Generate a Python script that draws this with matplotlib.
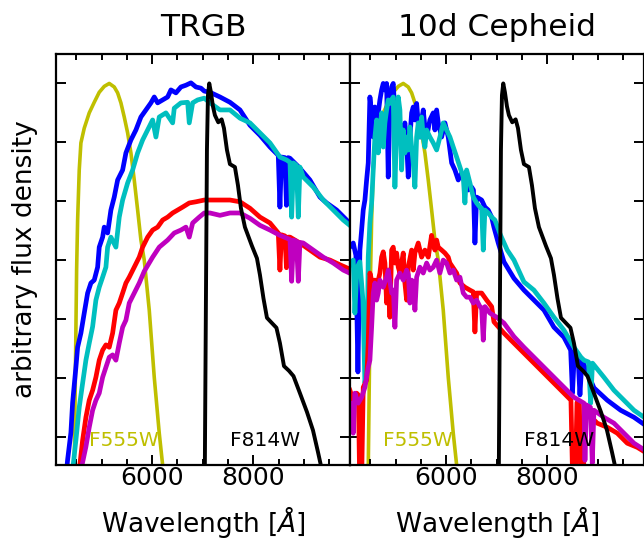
"""
TRGB vs 10d Cepheid spectra with the HST F555W / F814W throughputs drawn on top.

Two panels share the flux axis (no tick labels, arbitrary units, peak = 1).
Writes out.png in the working folder.
"""
import matplotlib
matplotlib.use('Agg')
import matplotlib.pyplot as plt
from matplotlib.ticker import MultipleLocator

# --- filter throughputs, normalised to peak; same curves in both panels ---
f555w_wave = [4450, 4503, 4523, 4555, 4588, 4654, 4753, 4852, 4951, 5050,
              5149, 5248, 5315, 5380, 5446, 5513, 5578, 5644, 5711, 5776,
              5842, 5941, 6040, 6139, 6206, 6232]
f555w_thru = [0.300, 0.683, 0.768, 0.853, 0.899, 0.924, 0.950, 0.968, 0.985, 0.995,
              1.000, 0.994, 0.984, 0.967, 0.943, 0.916, 0.882, 0.836, 0.785, 0.734,
              0.700, 0.615, 0.501, 0.406, 0.352, 0.330]

f814w_wave = [7040, 7063, 7083, 7103, 7129, 7162, 7202, 7241, 7307, 7374,
              7420, 7479, 7538, 7637, 7697, 7756, 7835, 7974, 8073, 8132,
              8202, 8271, 8370, 8459, 8528, 8608, 8707, 8796, 8924, 9063,
              9182, 9281, 9360]
f814w_thru = [0.330, 0.632, 0.887, 0.980, 1.000, 0.985, 0.961, 0.946, 0.934, 0.939,
              0.924, 0.887, 0.863, 0.858, 0.827, 0.788, 0.756, 0.724, 0.703, 0.675,
              0.635, 0.602, 0.593, 0.585, 0.559, 0.520, 0.512, 0.503, 0.474, 0.442,
              0.411, 0.374, 0.343]

# --- TRGB panel spectra ---
trgb_blue_wave = [4305, 4325, 4390, 4424, 4489, 4523, 4588, 4654, 4721, 4786,
                  4852, 4919, 4951, 5018, 5050, 5117, 5182, 5248, 5315, 5414,
                  5479, 5578, 5677, 5776, 5875, 5974, 6040, 6107, 6206, 6305,
                  6370, 6469, 6568, 6667, 6766, 6865, 6964, 7030, 7143, 7341,
                  7539, 7737, 7935, 8133, 8331, 8495, 8528, 8558, 8627, 8657,
                  8690, 8726, 8924, 9122, 9320, 9453, 9651, 9849, 9954]
trgb_blue_flux = [0.343, 0.361, 0.407, 0.458, 0.518, 0.552, 0.576, 0.610, 0.644, 0.661,
                  0.666, 0.688, 0.722, 0.739, 0.756, 0.746, 0.785, 0.807, 0.836, 0.853,
                  0.882, 0.904, 0.921, 0.943, 0.955, 0.967, 0.977, 0.967, 0.972, 0.977,
                  0.989, 0.984, 0.994, 0.997, 1.001, 0.994, 0.992, 0.987, 0.985, 0.977,
                  0.968, 0.955, 0.929, 0.912, 0.892, 0.878, 0.790, 0.875, 0.874, 0.793,
                  0.874, 0.873, 0.856, 0.836, 0.807, 0.797, 0.785, 0.768, 0.758]

trgb_cyan_wave = [4424, 4489, 4555, 4622, 4687, 4753, 4820, 4885, 4951, 5018,
                  5083, 5117, 5182, 5281, 5347, 5414, 5513, 5612, 5711, 5810,
                  5909, 6008, 6073, 6139, 6271, 6404, 6436, 6568, 6701, 6733,
                  6800, 6899, 7030, 7143, 7341, 7539, 7737, 7935, 8133, 8331,
                  8528, 8661, 8727, 8760, 8796, 8855, 8891, 8924, 8990, 9188,
                  9386, 9584, 9782, 9954]
trgb_cyan_flux = [0.343, 0.394, 0.450, 0.491, 0.530, 0.559, 0.587, 0.632, 0.654, 0.671,
                  0.688, 0.722, 0.739, 0.722, 0.773, 0.802, 0.831, 0.853, 0.882, 0.904,
                  0.921, 0.938, 0.909, 0.943, 0.950, 0.933, 0.958, 0.967, 0.968, 0.933,
                  0.967, 0.972, 0.975, 0.967, 0.955, 0.955, 0.941, 0.933, 0.916, 0.899,
                  0.875, 0.870, 0.866, 0.773, 0.865, 0.861, 0.773, 0.858, 0.841, 0.824,
                  0.802, 0.785, 0.768, 0.756]

trgb_red_wave = [4555, 4622, 4687, 4753, 4820, 4885, 4951, 5018, 5083, 5149,
                 5216, 5281, 5347, 5414, 5479, 5545, 5644, 5743, 5810, 5909,
                 6008, 6107, 6206, 6305, 6404, 6503, 6602, 6733, 6865, 7030,
                 7143, 7341, 7539, 7737, 7935, 8133, 8331, 8495, 8528, 8558,
                 8627, 8657, 8687, 8727, 8924, 9122, 9320, 9519, 9717, 9954]
trgb_red_flux = [0.343, 0.394, 0.433, 0.462, 0.479, 0.501, 0.530, 0.547, 0.556, 0.552,
                 0.576, 0.615, 0.627, 0.644, 0.661, 0.671, 0.688, 0.705, 0.722, 0.739,
                 0.751, 0.756, 0.768, 0.773, 0.780, 0.785, 0.790, 0.797, 0.799, 0.802,
                 0.802, 0.802, 0.802, 0.799, 0.788, 0.773, 0.763, 0.746, 0.683, 0.743,
                 0.741, 0.687, 0.739, 0.739, 0.729, 0.717, 0.705, 0.700, 0.692, 0.683]

trgb_mag_wave = [4588, 4687, 4753, 4820, 4885, 4951, 5018, 5083, 5149, 5216,
                 5281, 5347, 5414, 5479, 5545, 5644, 5743, 5842, 6008, 6139,
                 6305, 6436, 6568, 6667, 6733, 6800, 6931, 7030, 7143, 7341,
                 7539, 7737, 7935, 8133, 8331, 8528, 8727, 8760, 8796, 8855,
                 8891, 8924, 8990, 9188, 9386, 9584, 9782, 9954]
trgb_mag_flux = [0.343, 0.383, 0.416, 0.445, 0.462, 0.474, 0.501, 0.518, 0.535, 0.539,
                 0.530, 0.559, 0.586, 0.598, 0.627, 0.644, 0.661, 0.681, 0.705, 0.722,
                 0.734, 0.746, 0.751, 0.756, 0.739, 0.763, 0.773, 0.780, 0.780, 0.776,
                 0.780, 0.780, 0.771, 0.759, 0.751, 0.742, 0.735, 0.664, 0.734, 0.732,
                 0.664, 0.730, 0.729, 0.717, 0.705, 0.695, 0.683, 0.676]

# --- 10d Cepheid panel spectra ---
ceph_blue_wave = [4093, 4159, 4212, 4252, 4291, 4325, 4357, 4390, 4424, 4456,
                  4489, 4523, 4555, 4588, 4622, 4654, 4687, 4721, 4753, 4786,
                  4820, 4852, 4885, 4919, 4951, 4984, 5018, 5050, 5083, 5149,
                  5182, 5216, 5248, 5281, 5315, 5347, 5380, 5414, 5446, 5479,
                  5513, 5545, 5578, 5612, 5677, 5743, 5776, 5810, 5842, 5909,
                  5974, 6040, 6107, 6172, 6238, 6305, 6370, 6436, 6503, 6539,
                  6568, 6602, 6701, 6766, 6832, 6899, 6944, 7030, 7143, 7341,
                  7539, 7737, 7935, 8132, 8330, 8463, 8499, 8538, 8608, 8647,
                  8687, 8924, 9188, 9453, 9717, 9934]
ceph_blue_flux = [0.722, 0.729, 0.708, 0.510, 0.717, 0.751, 0.785, 0.802, 0.836, 0.865,
                  0.977, 0.950, 0.909, 0.960, 0.938, 0.950, 0.972, 0.989, 1.000, 0.989,
                  1.000, 0.841, 0.966, 0.994, 1.000, 0.950, 0.909, 0.955, 0.899, 0.921,
                  0.933, 0.899, 0.841, 0.909, 0.950, 0.960, 0.938, 0.966, 0.933, 0.909,
                  0.938, 0.955, 0.926, 0.909, 0.938, 0.950, 0.921, 0.955, 0.933, 0.909,
                  0.933, 0.909, 0.865, 0.853, 0.836, 0.848, 0.831, 0.819, 0.824, 0.819,
                  0.729, 0.807, 0.802, 0.790, 0.785, 0.773, 0.756, 0.729, 0.697, 0.669,
                  0.649, 0.632, 0.615, 0.586, 0.569, 0.547, 0.474, 0.544, 0.537, 0.471,
                  0.530, 0.483, 0.462, 0.445, 0.433, 0.420]

ceph_cyan_wave = [4093, 4159, 4192, 4232, 4291, 4351, 4390, 4430, 4456, 4489,
                  4523, 4555, 4588, 4622, 4654, 4687, 4721, 4753, 4786, 4820,
                  4852, 4885, 4919, 4951, 4984, 5018, 5050, 5083, 5117, 5149,
                  5182, 5216, 5248, 5281, 5315, 5347, 5380, 5414, 5446, 5479,
                  5513, 5545, 5578, 5612, 5677, 5743, 5810, 5875, 5941, 6007,
                  6073, 6139, 6206, 6271, 6337, 6370, 6404, 6469, 6535, 6602,
                  6667, 6701, 6733, 6766, 6832, 6899, 6964, 7077, 7208, 7341,
                  7538, 7736, 7934, 8132, 8330, 8528, 8667, 8727, 8816, 8859,
                  8895, 8924, 9122, 9320, 9518, 9716, 9934]
ceph_cyan_flux = [0.692, 0.700, 0.610, 0.687, 0.697, 0.632, 0.491, 0.513, 0.705, 0.763,
                  0.797, 0.853, 0.909, 0.938, 0.882, 0.921, 0.950, 0.892, 0.933, 0.955,
                  0.972, 0.966, 0.972, 0.977, 0.824, 0.921, 0.977, 0.955, 0.853, 0.921,
                  0.882, 0.909, 0.887, 0.926, 0.892, 0.865, 0.824, 0.909, 0.933, 0.909,
                  0.943, 0.909, 0.892, 0.921, 0.909, 0.899, 0.887, 0.909, 0.933, 0.921,
                  0.909, 0.892, 0.875, 0.858, 0.841, 0.797, 0.853, 0.831, 0.807, 0.797,
                  0.790, 0.788, 0.717, 0.785, 0.780, 0.773, 0.768, 0.742, 0.717, 0.700,
                  0.663, 0.649, 0.627, 0.603, 0.581, 0.552, 0.535, 0.530, 0.527, 0.457,
                  0.525, 0.522, 0.501, 0.479, 0.462, 0.445, 0.432]

ceph_red_wave = [4093, 4159, 4226, 4261, 4291, 4320, 4357, 4424, 4456, 4489,
                 4523, 4555, 4588, 4622, 4687, 4721, 4753, 4786, 4820, 4852,
                 4885, 4919, 4951, 4984, 5018, 5050, 5083, 5149, 5182, 5216,
                 5248, 5315, 5347, 5380, 5446, 5513, 5578, 5644, 5710, 5743,
                 5776, 5810, 5842, 5909, 5974, 6040, 6073, 6206, 6271, 6370,
                 6469, 6535, 6568, 6602, 6701, 6800, 6899, 6945, 7142, 7340,
                 7538, 7736, 7934, 8132, 8330, 8469, 8509, 8548, 8588, 8637,
                 8667, 8707, 8746, 8792, 8990, 9188, 9386, 9584, 9782, 9934]
ceph_red_flux = [0.479, 0.462, 0.474, 0.471, 0.300, 0.300, 0.484, 0.496, 0.559, 0.678,
                 0.666, 0.649, 0.666, 0.654, 0.678, 0.705, 0.714, 0.695, 0.627, 0.683,
                 0.603, 0.717, 0.722, 0.695, 0.712, 0.688, 0.678, 0.712, 0.661, 0.632,
                 0.688, 0.717, 0.683, 0.712, 0.729, 0.705, 0.717, 0.705, 0.742, 0.729,
                 0.717, 0.734, 0.722, 0.717, 0.712, 0.705, 0.695, 0.678, 0.661, 0.654,
                 0.649, 0.646, 0.578, 0.644, 0.644, 0.632, 0.621, 0.595, 0.576, 0.559,
                 0.542, 0.525, 0.508, 0.491, 0.474, 0.462, 0.300, 0.300, 0.458, 0.454,
                 0.300, 0.300, 0.449, 0.440, 0.423, 0.416, 0.406, 0.389, 0.382, 0.374]

ceph_mag_wave = [4093, 4127, 4159, 4192, 4258, 4325, 4390, 4456, 4489, 4523,
                 4555, 4588, 4622, 4654, 4687, 4753, 4820, 4852, 4919, 4954,
                 4984, 5018, 5083, 5149, 5216, 5251, 5281, 5315, 5351, 5380,
                 5414, 5479, 5545, 5612, 5677, 5743, 5810, 5875, 5941, 6008,
                 6073, 6139, 6206, 6271, 6337, 6404, 6469, 6535, 6602, 6667,
                 6701, 6733, 6766, 6865, 6998, 7143, 7341, 7538, 7736, 7934,
                 8132, 8330, 8528, 8727, 8746, 8776, 8855, 8891, 8924, 9122,
                 9320, 9518, 9716, 9934]
ceph_mag_flux = [0.457, 0.457, 0.406, 0.474, 0.457, 0.467, 0.484, 0.518, 0.530, 0.586,
                 0.644, 0.661, 0.632, 0.644, 0.666, 0.654, 0.671, 0.683, 0.644, 0.649,
                 0.586, 0.666, 0.678, 0.666, 0.683, 0.675, 0.627, 0.666, 0.663, 0.615,
                 0.671, 0.688, 0.678, 0.695, 0.683, 0.688, 0.700, 0.678, 0.700, 0.695,
                 0.678, 0.683, 0.666, 0.671, 0.644, 0.637, 0.637, 0.627, 0.632, 0.621,
                 0.619, 0.564, 0.621, 0.610, 0.603, 0.593, 0.570, 0.552, 0.535, 0.518,
                 0.501, 0.484, 0.467, 0.457, 0.360, 0.454, 0.450, 0.355, 0.445, 0.433,
                 0.423, 0.406, 0.389, 0.377]

SPEC_COLORS = ['b', 'c', 'r', 'm']
WAVE_RANGE = (4095, 9915)
FLUX_RANGE = (0.352, 1.05)


def _style_axis(ax):
    ax.set_xlim(*WAVE_RANGE)
    ax.set_ylim(*FLUX_RANGE)
    ax.xaxis.set_major_locator(MultipleLocator(2000))
    ax.xaxis.set_minor_locator(MultipleLocator(500))
    ax.yaxis.set_major_locator(MultipleLocator(0.1))
    ax.tick_params(which='both', direction='in', top=True, right=True,
                   labelleft=False, width=1.4)
    ax.tick_params(which='major', length=7, labelsize=18, pad=1)
    ax.tick_params(which='minor', length=4)
    for sp in ax.spines.values():
        sp.set_linewidth(1.6)
    ax.set_xlabel(r'Wavelength [$\AA$]', fontsize=19, labelpad=10)


def draw_panel(ax, spectra, title):
    """Filters underneath/over the four spectra, plus the filter names."""
    ax.plot(f555w_wave, f555w_thru, color='y', lw=2.6, zorder=1)
    for (wave, flux), col in zip(spectra, SPEC_COLORS):
        ax.plot(wave, flux, color=col, lw=3.4, zorder=2)
    ax.plot(f814w_wave, f814w_thru, color='k', lw=2.8, zorder=3)
    ax.text(5440, 0.394, 'F555W', color='y', fontsize=14.5, ha='center', va='center')
    ax.text(8225, 0.394, 'F814W', color='k', fontsize=14.5, ha='center', va='center')
    ax.set_title(title, fontsize=22.5, pad=13)
    _style_axis(ax)


fig = plt.figure(figsize=(6.44, 5.4), dpi=100)
ax_trgb = fig.add_axes([56 / 644, 75 / 540, 294 / 644, 411 / 540])
ax_ceph = fig.add_axes([350 / 644, 75 / 540, 294 / 644, 411 / 540])

draw_panel(ax_trgb, [(trgb_blue_wave, trgb_blue_flux), (trgb_cyan_wave, trgb_cyan_flux),
                     (trgb_red_wave, trgb_red_flux), (trgb_mag_wave, trgb_mag_flux)], 'TRGB')
draw_panel(ax_ceph, [(ceph_blue_wave, ceph_blue_flux), (ceph_cyan_wave, ceph_cyan_flux),
                     (ceph_red_wave, ceph_red_flux), (ceph_mag_wave, ceph_mag_flux)], '10d Cepheid')
ax_trgb.set_ylabel('arbitrary flux density', fontsize=19, labelpad=13)

fig.savefig('out.png', dpi=100)
plt.close(fig)
